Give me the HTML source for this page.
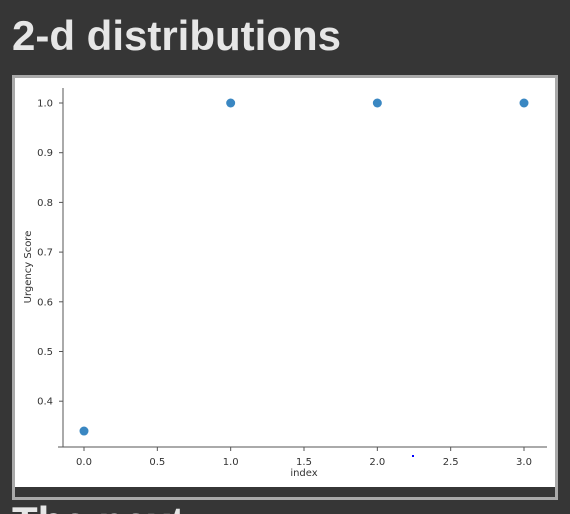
<!DOCTYPE html>
<html><head><meta charset="utf-8"><style>
html,body{margin:0;width:570px;height:514px;overflow:hidden}
body{background:#363636;position:relative;font-family:"Liberation Sans",sans-serif}
#title{position:absolute;left:12px;top:12px;font-size:42px;line-height:48px;font-weight:bold;color:#e6e6e6;margin:0}
#frame{position:absolute;left:12px;top:75px;width:540px;height:419px;border:3px solid #a9a9a9;background:#363636}
#plot{position:absolute;left:0;top:0;width:540px;height:409px;background:#fff}
#clip{position:absolute;left:0;top:500px;width:570px;height:14px;overflow:hidden}
#next{position:absolute;left:12px;top:-2px;font-size:42px;line-height:48px;font-weight:bold;color:#e6e6e6;white-space:nowrap}
</style></head><body>
<h1 id="title">2-d distributions</h1>
<div id="frame"><div id="plot"></div></div>
<div id="clip"><div id="next">The next</div></div>
<svg id="svg" width="570" height="514" style="position:absolute;left:0;top:0"></svg>
<script>
const xs=[0,1,2,3];
const ys=[0.34,1.0,1.0,1.0];
const xTicks=[0,0.5,1,1.5,2,2.5,3];
const yTicks=[0.4,0.5,0.6,0.7,0.8,0.9,1.0];
const NS="http://www.w3.org/2000/svg";
const svg=document.getElementById('svg');
const X=v=>84+v*146.67, Y=v=>103+(1-v)*497;
function mk(t,a,txt){const e=document.createElementNS(NS,t);for(const k in a)e.setAttribute(k,a[k]);if(txt!=null)e.textContent=txt;svg.appendChild(e);return e;}
let e=mk('line',{x1:63,y1:88,x2:63,y2:447,stroke:'#555','stroke-width':1});


e=mk('line',{x1:58,y1:447,x2:547,y2:447,stroke:'#555','stroke-width':1});


xTicks.forEach(t=>{
 e=mk('line',{x1:X(t),y1:447,x2:X(t),y2:451,stroke:'#555'});
 
 
 e=mk('text',{x:X(t),y:465,'font-size':10,'text-anchor':'middle',fill:'#333','font-family':'DejaVu Sans, sans-serif'},t.toFixed(1));
 
 
});
yTicks.forEach(t=>{
 e=mk('line',{x1:59,y1:Y(t),x2:63,y2:Y(t),stroke:'#555'});
 
 
 e=mk('text',{x:53,y:Y(t)+3.5,'font-size':10,'text-anchor':'end',fill:'#333','font-family':'DejaVu Sans, sans-serif'},t.toFixed(1));
 
 
});
e=mk('text',{x:304,y:476,'font-size':10,'text-anchor':'middle',fill:'#333','font-family':'DejaVu Sans, sans-serif'},'index');


e=mk('text',{x:0,y:0,'font-size':10,'text-anchor':'middle',fill:'#333','font-family':'DejaVu Sans, sans-serif',transform:'translate(31,267) rotate(-90)'},'Urgency Score');


xs.forEach((x,i)=>{
 e=mk('circle',{cx:X(x),cy:Y(ys[i]),r:4.5,fill:'#3a87c2'});
 
 
});
e=mk('rect',{x:412,y:455,width:2,height:2,fill:'#0000ff'});


</script>
</body></html>
